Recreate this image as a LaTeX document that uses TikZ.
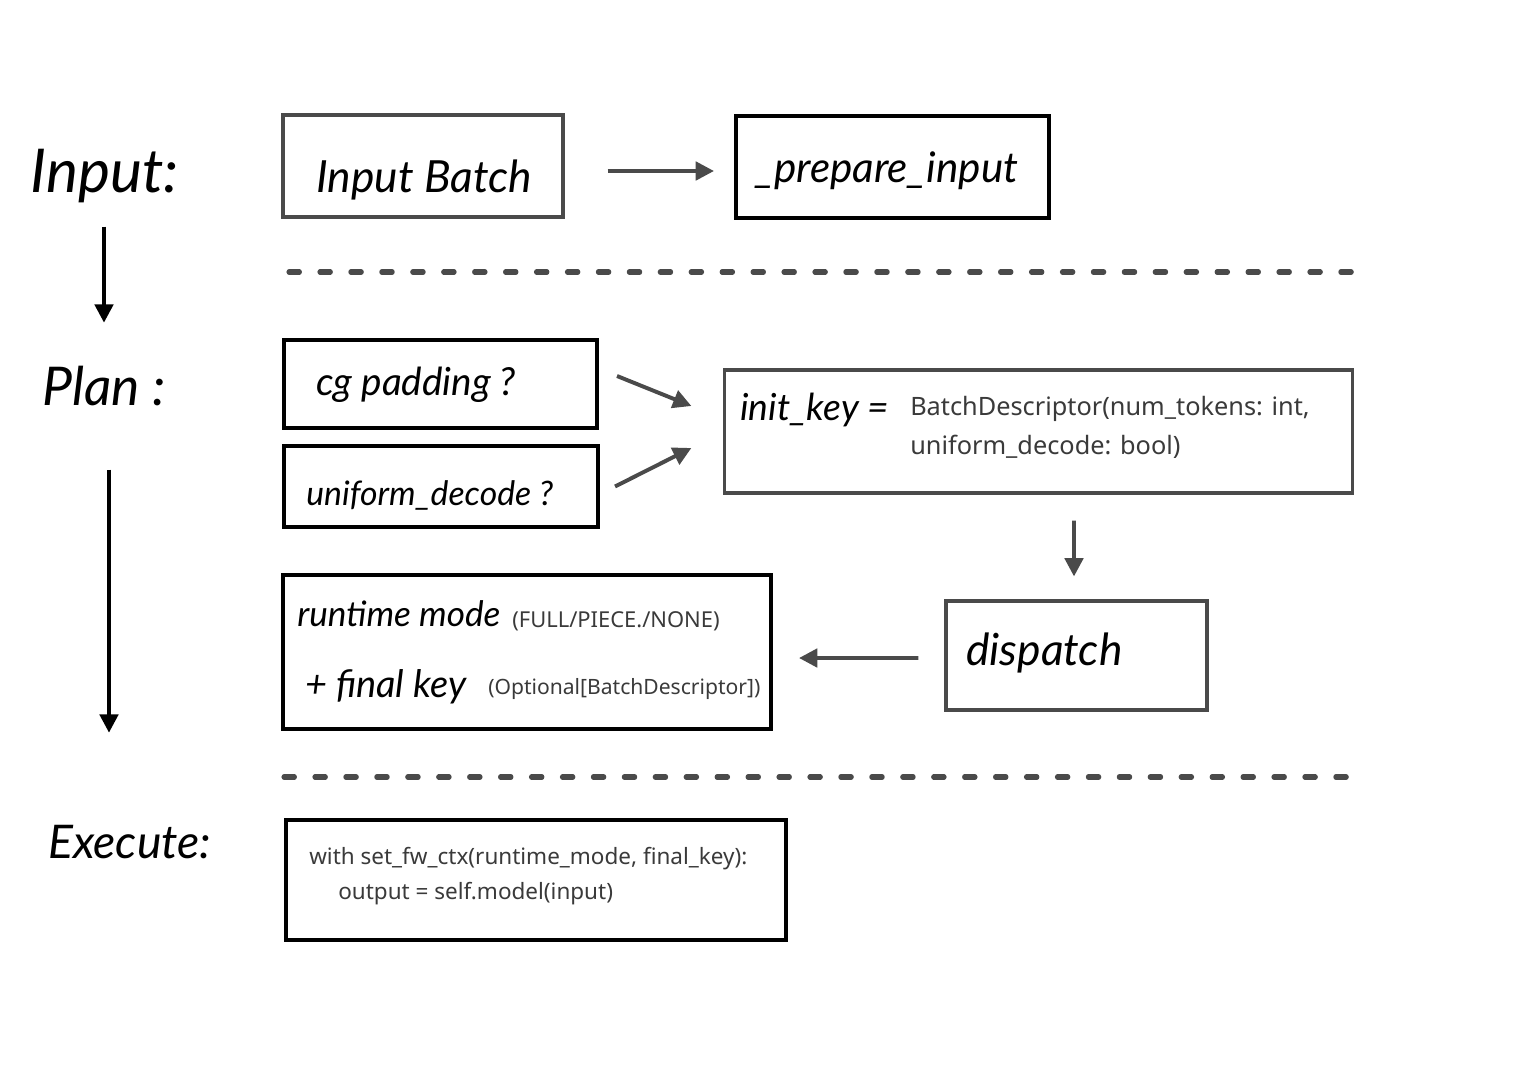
\documentclass[tikz,border=0pt]{standalone}
\usepackage{fontspec}
\setmainfont{Noto Sans}
\newfontfamily\handfont{Lato}
\usetikzlibrary{arrows.meta,calc}
\definecolor{linegray}{HTML}{4A4A4A}
\definecolor{txtgray}{HTML}{3A3A3A}
\tikzset{
  blackbox/.style={draw=black,line width=2.8pt,fill=white,inner sep=0pt},
  graybox/.style={draw=linegray,line width=2.2pt,fill=white,inner sep=0pt},
  hand/.style={inner sep=0pt,anchor=base west,font=\handfont\itshape\fontsize{#1}{#1}\selectfont,text=black},
  typed/.style={inner sep=0pt,anchor=base west,font=\fontsize{#1}{#1}\selectfont,text=txtgray},
  arr/.style={line width=2.8pt,draw=black,-{Triangle[length=13pt,width=13pt]}},
  garr/.style={line width=2.8pt,draw=linegray,-{Triangle[length=13pt,width=13pt]}},
  sep/.style={draw=linegray,line width=3.6pt,line cap=round,dash pattern=on 7.4pt off 14.6pt},
}
\begin{document}
\begin{tikzpicture}[x=0.025cm,y=-0.025cm]
\useasboundingbox[fill=white] (0,0) rectangle (1528,1079);

% left stage labels
\node[hand=43pt] (inL) at (30,192) {Input:};
\node[hand=38pt] (plL) at (42,405) {Plan :};
\node[hand=33pt] (exL) at (48,858) {Execute:};
\draw[arr] ($(inL.south west)+(74,24)$) -- ($(inL.south west)+(74,120)$);
\draw[arr] ($(plL.south west)+(67,64)$) -- ($(plL.south west)+(67,327)$);

% boxes
\node[graybox,minimum width=7cm,minimum height=2.55cm] (ib) at (423,166) {};
\node[blackbox,minimum width=7.825cm,minimum height=2.55cm] (prep) at (892.5,167) {};
\node[blackbox,minimum width=7.825cm,minimum height=2.2cm] (cg) at (440.5,384) {};
\node[blackbox,minimum width=7.85cm,minimum height=2.025cm] (uni) at (441,486.5) {};
\node[graybox,minimum width=15.675cm,minimum height=3.075cm] (ik) at (1038.5,431.5) {};
\node[graybox,minimum width=6.525cm,minimum height=2.725cm] (disp) at (1076.5,655.5) {};
\node[blackbox,minimum width=12.2cm,minimum height=3.85cm] (rt) at (527,652) {};
\node[blackbox,minimum width=12.5cm,minimum height=3cm] (ex) at (536,880) {};

% box texts
\node[hand=31.5pt] (ibT) at (316,192) {Input Batch};
\node[hand=30pt] (prepT) at (755,182) {\_prepare\_input};
\node[hand=27.5pt] (cgT) at (316,395) {cg padding ?};
\node[hand=24pt] (uniT) at (306,505) {uniform\_decode ?};
\node[hand=26.5pt] (ikT) at (740,420) {init\_key =};
\node[typed=18pt] (ikA) at (910,415) {BatchDescriptor(num\_tokens: int,};
\node[typed=18pt] (ikB) at (910,454) {uniform\_decode: bool)};
\node[hand=31.5pt] (dispT) at (966,665) {dispatch};
\node[hand=25pt] (rtA) at (297,626) {runtime mode};
\node[typed=15.6pt] (rtA2) at (512,627) {(FULL/PIECE./NONE)};
\node[hand=27pt] (rtB) at (305,697) {+ final key};
\node[typed=15pt] (rtB2) at (488,694) {(Optional[BatchDescriptor])};
\node[typed=16pt] (exA) at (309,864) {with set\_fw\_ctx(runtime\_mode, final\_key):};
\node[typed=16pt] (exB) at (338,899) {output = self.model(input)};

% connectors
\draw[garr] ($(ib.east)+(43,5)$) -- ($(prep.west)+(-20,4)$);
\draw[garr] ($(cg.east)+(18,-8)$) -- ($(ik.west)+(-32,-25.5)$);
\draw[garr] ($(uni.east)+(15,0)$) -- ($(ik.west)+(-32,16.5)$);
\draw[garr] ($(ik.south)+(35.5,26)$) -- ($(disp.north)+(-2.5,-23)$);
\draw[garr] ($(disp.west)+(-26,2.5)$) -- ($(rt.east)+(26,6)$);

% dashed separators
\draw[sep] (289,272) -- (1366,272);
\draw[sep] (284,777) -- (1362,777);
\end{tikzpicture}
\end{document}
